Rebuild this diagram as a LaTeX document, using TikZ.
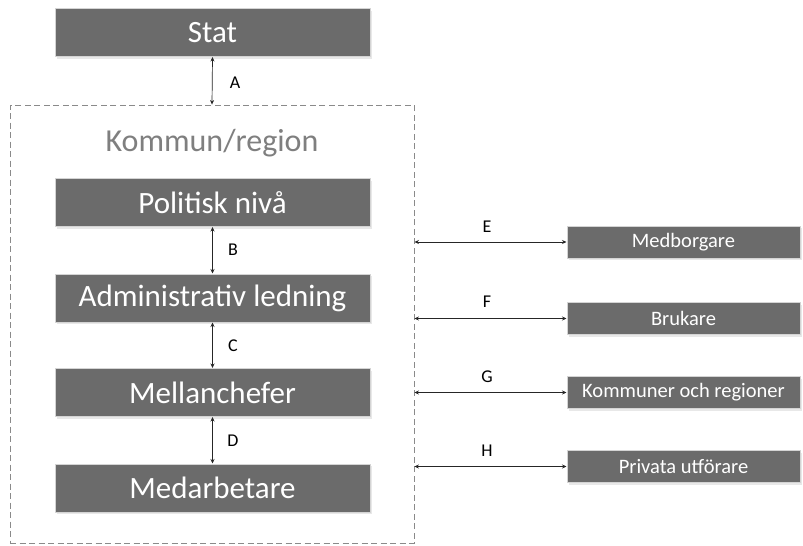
\documentclass[tikz,border=0pt]{standalone}
\usepackage{fontspec}
\setmainfont{Carlito}
\usetikzlibrary{arrows.meta,shadows}
\definecolor{boxgray}{HTML}{6B6B6B}
\definecolor{edgegray}{HTML}{D4D4D4}
\definecolor{titlegray}{HTML}{7F7F7F}
\definecolor{dashgray}{HTML}{8A8A8A}
\tikzset{
  mainbox/.style={rectangle, fill=boxgray, draw=edgegray, line width=1pt,
    minimum width=315pt, minimum height=48pt, inner sep=0pt,
    text=white, font=\fontsize{31}{31}\selectfont,
    drop shadow={opacity=0.18, shadow xshift=1.5pt, shadow yshift=-2pt}},
  sidebox/.style={rectangle, fill=boxgray, draw=edgegray, line width=1pt,
    minimum width=233pt, minimum height=32pt, inner sep=0pt,
    text=white, font=\fontsize{20.5}{20.5}\selectfont,
    drop shadow={opacity=0.18, shadow xshift=1.5pt, shadow yshift=-2pt}},
  frame/.style={rectangle, draw=dashgray, dash pattern=on 6pt off 3.5pt,
    line width=0.9pt, minimum width=404pt, minimum height=438pt, inner sep=0pt},
  link/.style={{Stealth[length=4.5pt,width=4pt]}-{Stealth[length=4.5pt,width=4pt]},
    line width=0.7pt, draw=black!85},
  lbl/.style={font=\fontsize{18}{18}\selectfont, text=black},
}
\begin{document}
\begin{tikzpicture}[x=1pt,y=-1pt]
\useasboundingbox[fill=white] (0,0) rectangle (803,546);
\node[frame] (kommun) at (212,324) {};
\node[font=\fontsize{32}{32}\selectfont, text=titlegray] (ktitle) at (212,143) {Kommun/region};
\node[mainbox] (stat) at (212.5,32.5) {Stat};
\node[mainbox] (pol) at (212.5,202.5) {Politisk nivå};
\node[mainbox] (adm) at (212.5,298) {Administrativ ledning};
\node[mainbox] (mel) at (212.5,392.5) {Mellanchefer};
\node[mainbox] (mea) at (212.5,488) {Medarbetare};
\node[sidebox] (medb) at (683.5,242) {Medborgare};
\node[sidebox] (bruk) at (683.5,318.5) {Brukare};
\node[sidebox] (komm) at (683.5,392.5) {Kommuner och regioner};
\node[sidebox] (priv) at (683.5,466.5) {Privata utförare};
\draw[link] (stat.south) -- (kommun.north);
\draw[link] (pol.south) -- (adm.north);
\draw[link] (adm.south) -- (mel.north);
\draw[link] (mel.south) -- (mea.north);
\draw[link] (kommun.east |- medb.west) -- (medb.west);
\draw[link] (kommun.east |- bruk.west) -- (bruk.west);
\draw[link] (kommun.east |- komm.west) -- (komm.west);
\draw[link] (kommun.east |- priv.west) -- (priv.west);
\node[lbl] (la) at (235,83) {A};
\node[lbl] (lb) at (233,250) {B};
\node[lbl] (lc) at (233,346) {C};
\node[lbl] (ld) at (233,441) {D};
\node[lbl] (le) at (487,227) {E};
\node[lbl] (lf) at (487,302) {F};
\node[lbl] (lg) at (487,377) {G};
\node[lbl] (lh) at (487,451) {H};
\end{tikzpicture}
\end{document}
